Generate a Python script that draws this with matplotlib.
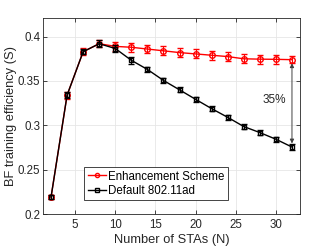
import matplotlib
matplotlib.use("Agg")
import matplotlib.pyplot as plt
from matplotlib.lines import Line2D

plt.rcParams['font.family'] = ['Liberation Sans', 'DejaVu Sans']

n_stas = [2, 4, 6, 8, 10, 12, 14, 16, 18, 20, 22, 24, 26, 28, 30, 32]
enhanced = [0.219, 0.334, 0.383, 0.392, 0.389, 0.388, 0.386, 0.384, 0.382, 0.3805,
            0.379, 0.3775, 0.375, 0.3746, 0.3744, 0.374]
enhanced_err = [0.002, 0.004, 0.004, 0.004, 0.005, 0.005, 0.005, 0.005, 0.005, 0.005,
                0.005, 0.005, 0.005, 0.005, 0.005, 0.004]
default = [0.219, 0.334, 0.383, 0.392, 0.3866, 0.3733, 0.363, 0.3506, 0.340, 0.3293,
           0.3188, 0.309, 0.2986, 0.2918, 0.2843, 0.2755]
default_err = [0.002, 0.003, 0.003, 0.004, 0.004, 0.004, 0.003, 0.003, 0.003, 0.003,
               0.003, 0.003, 0.003, 0.003, 0.003, 0.003]
labels = ['Enhancement Scheme', 'Default 802.11ad']
xticks = [5, 10, 15, 20, 25, 30]
yticks = [0.2, 0.25, 0.3, 0.35, 0.4]

fig = plt.figure(figsize=(3.32, 2.49), dpi=100)
ax = fig.add_axes([43/332, 1-214/249, 257/332, 196/249])

ax.errorbar(n_stas, enhanced, yerr=enhanced_err, color='red', marker='o', ms=4,
            mfc='none', mew=1, lw=1, capsize=2, elinewidth=0.8, zorder=3)
ax.errorbar(n_stas, default, yerr=default_err, color='black', marker='s', ms=3.5,
            mfc='none', mew=1, lw=1, capsize=2, elinewidth=0.8, zorder=4)

ax.set_xlim(1, 33)
ax.set_ylim(0.2, 0.421)
ax.set_xticks(xticks)
ax.set_yticks(yticks)
ax.set_yticklabels(['0.2', '0.25', '0.3', '0.35', '0.4'])
ax.grid(True, color='#e6e6e6', lw=0.6)
ax.set_axisbelow(True)
ax.tick_params(direction='in', top=True, right=True, labelsize=8.3, colors='#262626',
               length=3, width=0.6)
ax.tick_params(axis='y', pad=2)
for s in ax.spines.values():
    s.set_color('#262626')
    s.set_linewidth(0.6)
ax.set_xlabel('Number of STAs (N)', fontsize=9.3, color='#262626', labelpad=2)
ax.set_ylabel('BF training efficiency (S)', fontsize=9.3, color='#262626')
ax.yaxis.set_label_coords(-0.101, 0.5)

ax.annotate('', xy=(32, enhanced[-1] - 0.004), xytext=(32, default[-1] + 0.004),
            arrowprops=dict(arrowstyle='<|-|>', color='#404040', lw=0.7,
                            mutation_scale=6, shrinkA=0, shrinkB=0))
ax.text(31.3, 0.329, '35%', fontsize=8.5, color='#262626', ha='right', va='center')

handles = [Line2D([], [], color='red', marker='o', ms=3, mfc='none', mew=1, lw=1),
           Line2D([], [], color='black', marker='s', ms=2.5, mfc='none', mew=1, lw=1)]
leg = ax.legend(handles, labels, loc='lower left', bbox_to_anchor=(0.16, 0.07), fontsize=8.3,
                frameon=True, fancybox=False, edgecolor='#262626', framealpha=1,
                handlelength=1.6, handletextpad=0.2, borderpad=0.3, labelspacing=0.2,
                borderaxespad=0)
leg.get_frame().set_linewidth(0.6)

fig.savefig('out.png', dpi=100)
